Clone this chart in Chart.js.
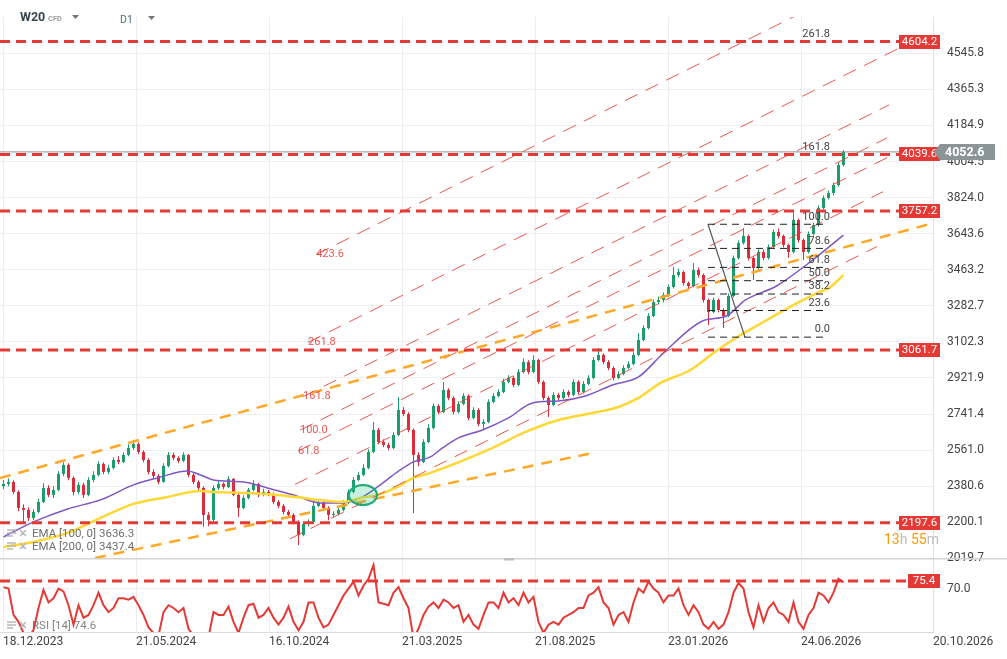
<!DOCTYPE html>
<html>
<head>
<meta charset="utf-8">
<title>W20 D1</title>
<script src="https://cdn.jsdelivr.net/npm/chart.js@4.4.1/dist/chart.umd.min.js"></script>
<style>
  html, body { margin: 0; padding: 0; background: #fff; }
  body { width: 1007px; height: 659px; position: relative; overflow: hidden; }
  canvas { position: absolute; left: 0; }
  #price { top: 0; }
  #rsi { top: 558px; }
</style>
</head>
<body>
<canvas id="price" width="1007" height="570"></canvas>
<canvas id="rsi" width="1007" height="101"></canvas>
<script>
// candles, one every few sessions
var opens = [
  2380,2392,2402,2352,2272,2262,2222,2252,2302,2372,
  2337,2362,2442,2487,2422,2352,2387,2337,2412,2437,
  2492,2452,2472,2512,2502,2537,2572,2592,2552,2512,
  2452,2432,2402,2482,2537,2522,2507,2537,2437,2402,
  2372,2237,2212,2372,2392,2377,2417,2337,2272,2322,
  2362,2392,2337,2352,2342,2302,2282,2252,2237,2202,
  2137,2192,2202,2282,2297,2272,2237,2242,2262,2297,
  2352,2412,2437,2472,2552,2662,2602,2587,2572,2637,
  2762,2742,2662,2537,2502,2602,2672,2782,2752,2862,
  2822,2752,2792,2832,2722,2762,2692,2702,2802,2832,
  2852,2902,2922,2887,2952,3002,2952,3012,2902,2822,
  2787,2837,2822,2852,2837,2902,2852,2892,2922,3012,
  3037,3002,2972,2922,2942,2972,2992,3037,3112,3172,
  3232,3302,3312,3337,3377,3437,3452,3397,3382,3462,
  3437,3312,3252,3312,3262,3232,3332,3522,3597,3632,
  3522,3472,3552,3522,3577,3652,3632,3587,3552,3712,
  3612,3552,3642,3687,3772,3822,3847,3887,3987];
var highs = [
  2412,2420,2410,2360,2290,2275,2265,2318,2395,2385,
  2380,2455,2500,2495,2430,2400,2398,2425,2455,2505,
  2500,2488,2525,2530,2550,2590,2612,2600,2560,2520,
  2465,2440,2495,2552,2548,2530,2550,2542,2445,2410,
  2380,2250,2385,2410,2400,2430,2422,2345,2335,2372,
  2412,2398,2368,2362,2350,2312,2290,2262,2245,2210,
  2205,2215,2312,2310,2305,2280,2255,2272,2310,2365,
  2425,2450,2490,2565,2702,2672,2615,2598,2650,2827,
  2775,2750,2670,2550,2615,2690,2795,2790,2902,2870,
  2830,2805,2845,2840,2775,2770,2715,2815,2845,2865,
  2918,2935,2930,2965,3020,3010,3035,3018,2910,2830,
  2850,2848,2865,2860,2915,2910,2905,2935,3025,3072,
  3045,3010,2980,2955,2985,3005,3050,3147,3185,3245,
  3315,3330,3350,3390,3477,3470,3460,3405,3497,3475,
  3445,3320,3325,3320,3270,3345,3535,3610,3672,3640,
  3530,3565,3565,3590,3665,3670,3640,3595,3752,3720,
  3620,3655,3700,3785,3835,3860,3900,4000,4062];
var lows = [
  2365,2380,2340,2255,2202,2205,2210,2245,2295,2325,
  2322,2355,2430,2410,2335,2340,2322,2330,2400,2430,
  2440,2442,2465,2490,2495,2530,2562,2540,2500,2440,
  2420,2390,2398,2475,2510,2495,2500,2425,2390,2360,
  2178,2180,2205,2362,2365,2370,2330,2227,2265,2315,
  2355,2325,2330,2330,2290,2270,2240,2225,2190,2087,
  2130,2180,2198,2275,2262,2210,2225,2235,2255,2290,
  2345,2405,2430,2465,2545,2590,2575,2560,2565,2630,
  2730,2650,2247,2480,2495,2595,2665,2740,2745,2810,
  2740,2745,2785,2710,2715,2680,2662,2695,2795,2825,
  2845,2895,2875,2880,2945,2940,2945,2890,2810,2727,
  2780,2810,2815,2825,2830,2840,2845,2885,2915,3005,
  2990,2960,2910,2915,2935,2965,2985,3030,3105,3165,
  3225,3290,3300,3330,3370,3425,3385,3370,3375,3425,
  3300,3187,3245,3250,3172,3225,3325,3515,3590,3510,
  3412,3465,3510,3515,3570,3620,3575,3522,3545,3600,
  3512,3545,3635,3680,3765,3815,3835,3880,3980];
var closes = [
  2392,2402,2352,2272,2262,2222,2252,2302,2372,2337,
  2362,2442,2487,2422,2352,2387,2337,2412,2437,2492,
  2452,2472,2512,2502,2537,2572,2592,2552,2512,2452,
  2432,2402,2482,2537,2522,2507,2537,2437,2402,2372,
  2237,2212,2372,2392,2377,2417,2337,2272,2322,2362,
  2392,2337,2352,2342,2302,2282,2252,2237,2202,2137,
  2192,2202,2282,2297,2272,2237,2242,2262,2297,2352,
  2412,2437,2472,2552,2662,2602,2587,2572,2637,2762,
  2742,2662,2537,2502,2602,2672,2782,2752,2862,2822,
  2752,2792,2832,2722,2762,2692,2702,2802,2832,2852,
  2902,2922,2887,2952,3002,2952,3012,2902,2822,2787,
  2837,2822,2852,2837,2902,2852,2892,2922,3012,3037,
  3002,2972,2922,2942,2972,2992,3037,3112,3172,3232,
  3302,3312,3337,3377,3437,3452,3397,3382,3462,3437,
  3312,3252,3312,3262,3232,3332,3522,3597,3632,3522,
  3472,3552,3522,3577,3652,3632,3587,3552,3712,3612,
  3552,3642,3687,3772,3822,3847,3887,3987,4052.6];

var rsiValues = [
  71,70,51,46,38,35,40,56,69,60,
  63,70,68,58,44,58,49,51,58,67,
  58,53,56,63,63,62,64,58,51,42,
  38,36,53,58,56,53,56,41,36,34,
  30,35,53,51,51,57,46,38,49,58,
  59,49,51,56,49,44,49,57,46,40,
  46,60,60,49,42,44,51,58,65,70,
  75,65,72,77,87,60,59,58,67,71,
  63,56,34,41,51,57,60,56,62,60,
  56,58,46,51,44,41,51,60,60,56,
  67,60,63,58,67,60,64,46,38,44,
  46,44,49,51,53,56,56,65,67,71,
  60,56,44,51,53,46,60,70,67,75,
  70,67,60,65,65,70,58,51,58,53,
  44,41,46,41,44,53,67,74,70,53,
  42,58,46,56,60,53,51,46,60,46,
  41,51,56,67,65,60,67,77,74.6];

// moving averages as drawn (x in candle units)
var ema100X = [0,6,12.8,19.4,26,30.8,36.8,39.4,42,48,52.8,58,63.4,68,71.4,74.8,78.8,82,85.4,87.8,91,95.8,101,105.8,111,116.4,121.8,127,132,139.8,144.6,148.4,154.6,160.8,168];
var ema100Y = [2127,2202,2267,2312,2387,2422,2457,2437,2412,2402,2372,2337,2297,2297,2322,2377,2452,2502,2527,2572,2622,2662,2722,2797,2807,2832,2887,2927,3047,3207,3232,3312,3382,3492,3636.3];
var ema200X = [0,6,12.8,19.4,26,32.8,39.4,42,48,54.8,61.4,68,71.4,74.8,78.8,82,85.4,97.8,104.4,111,117.8,123,127,131.4,137.4,142,146.8,152,158.8,162.8,165.4,168];
var ema200Y = [2077,2102,2147,2222,2292,2327,2357,2352,2347,2337,2317,2302,2322,2337,2377,2422,2447,2572,2652,2712,2747,2777,2822,2897,2962,3047,3127,3202,3297,3347,3377,3437.4];

var dateTicks = [-0.1, 26.5, 53.1, 79.7, 106.3, 132.9, 159.5, 185.9];
var dateLabels = ['18.12.2023','21.05.2024','16.10.2024','21.03.2025','21.08.2025','23.01.2026','24.06.2026','20.10.2026'];
var priceTickLabels = ['2019.7','2200.1','2380.6','2561.0','2741.4','2921.9','3102.3','3282.7','3463.2','3643.6','3824.0','4004.5','4184.9','4365.3','4545.8'];

var levels = [4604.2, 4039.6, 3757.2, 3061.7, 2197.6];
var lastPrice = 4052.6;
var rsiLevel = 75.4;
var rsiLast = 74.6;

// fibonacci channel (red), anchored in data units
var channelLevels = [-100, 0, 61.8, 100, 161.8, 261.8, 423.6];
var channelEnds = [174.7, 175.9, 177.1, 176.7, 177.1, 179.1, 179];
// fibonacci retracement (black)
var fibLevels = [0, 23.6, 38.2, 50, 61.8, 78.6, 100, 161.8, 261.8];
var fibLow = 3126.1, fibHigh = 3690.7;
// orange trend lines [x0, p0, x1, p1]
var orangeLines = [[-0.7, 2421.7, 185.9, 3696.6], [18.3, 2021.6, 118.7, 2551.7]];
var crossMark = [71.9, 2336.6];

var UP = '#1c9d6c', DOWN = '#dc2c3c';
var RED = '#e53935';

function chanPrice(L, x) { return 2389.2 + 12.45 * (x - 58.3) + 2.591 * L; }
function chanStart(L) { return 58.3 + 0.01 * L; }
function fibPrice(L) { return fibLow + (fibHigh - fibLow) * L / 100; }

Chart.defaults.font.family = 'Roboto, "Noto Sans", sans-serif';
Chart.defaults.color = '#444';

function candleColor(ctx) {
  var i = ctx.dataIndex;
  return closes[i] >= opens[i] ? UP : DOWN;
}
function lineSet(pts, color, width, dash, order) {
  return { type: 'line', data: pts, borderColor: color, borderWidth: width, borderDash: dash || [],
           pointRadius: 0, fill: false, tension: 0, order: order };
}
function xy(xs, ys) { return xs.map(function (x, i) { return { x: x, y: ys[i] }; }); }

var ds = [];
ds.push({ type: 'bar', data: closes.map(function (c, i) { return { x: i, y: [lows[i], highs[i]] }; }),
          backgroundColor: candleColor, maxBarThickness: 1, grouped: false, order: 20 });
ds.push({ type: 'bar', data: closes.map(function (c, i) { return { x: i, y: [opens[i], c] }; }),
          backgroundColor: candleColor, maxBarThickness: 3, grouped: false, minBarLength: 1, order: 19 });
var e100 = lineSet(xy(ema100X, ema100Y), '#7e57c2', 1.5, null, 18); e100.cubicInterpolationMode = 'monotone';
var e200 = lineSet(xy(ema200X, ema200Y), '#fdd835', 2.5, null, 17); e200.cubicInterpolationMode = 'monotone';
ds.push(e100, e200);
channelLevels.forEach(function (L, k) {
  var x0 = chanStart(L), x1 = channelEnds[k];
  ds.push(lineSet([{ x: x0, y: chanPrice(L, x0) }, { x: x1, y: chanPrice(L, x1) }], 'rgba(229,57,53,0.85)', 1, [14, 9], 10));
});
orangeLines.forEach(function (o) {
  ds.push(lineSet([{ x: o[0], y: o[1] }, { x: o[2], y: o[3] }], '#ffa726', 2.5, [11, 8], 9));
});
fibLevels.forEach(function (L) {
  if (L > 100) return;
  ds.push(lineSet([{ x: 140.9, y: fibPrice(L) }, { x: 164.9, y: fibPrice(L) }], '#222', 1, [7, 5], 8));
});
ds.push(lineSet([{ x: 140.9, y: fibHigh }, { x: 148.3, y: fibLow }], '#555', 1.2, null, 8));
ds.push(lineSet([{ x: -0.7, y: lastPrice }, { x: 185.9, y: lastPrice }], '#8e8e8e', 1, null, 7));
levels.forEach(function (p) {
  ds.push(lineSet([{ x: -0.7, y: p }, { x: 180.3, y: p }], RED, 3, [10, 6], 5));
});

function tag(ctx, y, text, x0, x1, bg) {
  var yy = Math.round(y);
  ctx.fillStyle = bg;
  ctx.fillRect(x0, yy - 7, x1 - x0, 14);
  ctx.fillStyle = '#fff';
  ctx.font = '11.5px Roboto';
  ctx.textAlign = 'center';
  ctx.textBaseline = 'middle';
  ctx.fillText(text, (x0 + x1) / 2, yy + 0.5);
}
function legendIcons(ctx, y) {
  ctx.strokeStyle = '#b8b8b8';
  ctx.lineWidth = 1.5;
  ctx.beginPath();
  ctx.moveTo(7, y - 4); ctx.lineTo(16, y - 4);
  ctx.moveTo(7, y - 1); ctx.lineTo(16, y - 1);
  ctx.moveTo(7, y + 2); ctx.lineTo(13, y + 2);
  ctx.moveTo(20, y - 4); ctx.lineTo(26, y + 2);
  ctx.moveTo(26, y - 4); ctx.lineTo(20, y + 2);
  ctx.stroke();
}
function tri(ctx, x, y) {
  ctx.fillStyle = '#757575';
  ctx.beginPath(); ctx.moveTo(x, y); ctx.lineTo(x + 7, y); ctx.lineTo(x + 3.5, y + 4); ctx.closePath(); ctx.fill();
}

var priceOverlay = {
  id: 'priceOverlay',
  afterDatasetsDraw: function (chart) {
    var ctx = chart.ctx, xs = chart.scales.x, ys = chart.scales.y;
    ctx.save();
    // crossing mark
    ctx.beginPath();
    ctx.ellipse(xs.getPixelForValue(crossMark[0]), ys.getPixelForValue(crossMark[1]), 14, 10, 0, 0, Math.PI * 2);
    ctx.fillStyle = 'rgba(40,200,140,0.25)';
    ctx.fill();
    ctx.strokeStyle = '#1fa97a';
    ctx.lineWidth = 2;
    ctx.stroke();
    // channel level labels
    ctx.font = '11px Roboto';
    ctx.fillStyle = 'rgba(229,57,53,0.85)';
    ctx.textAlign = 'left';
    ctx.textBaseline = 'middle';
    channelLevels.forEach(function (L) {
      if (L <= 0) return;
      var x0 = chanStart(L);
      ctx.fillText(L.toFixed(1), xs.getPixelForValue(x0), ys.getPixelForValue(chanPrice(L, x0)));
    });
    // retracement labels
    ctx.fillStyle = '#424242';
    ctx.textAlign = 'right';
    ctx.textBaseline = 'bottom';
    fibLevels.forEach(function (L) {
      ctx.fillText(L.toFixed(1), xs.getPixelForValue(165.3), ys.getPixelForValue(fibPrice(L)) - 2);
    });
    ctx.restore();
  },
  afterDraw: function (chart) {
    var ctx = chart.ctx, ys = chart.scales.y, ca = chart.chartArea;
    ctx.save();
    levels.forEach(function (p) {
      tag(ctx, ys.getPixelForValue(p), p.toFixed(1), ca.right - 34, ca.right + 7, RED);
    });
    // last price
    var y = Math.round(ys.getPixelForValue(lastPrice));
    ctx.fillStyle = '#8b9598';
    ctx.beginPath();
    ctx.moveTo(ca.right + 1, y);
    ctx.lineTo(ca.right + 7, y - 8);
    ctx.lineTo(ca.right + 62, y - 8);
    ctx.lineTo(ca.right + 62, y + 8);
    ctx.lineTo(ca.right + 7, y + 8);
    ctx.closePath();
    ctx.fill();
    ctx.fillStyle = '#fff';
    ctx.font = 'bold 12.5px Roboto';
    ctx.textAlign = 'left';
    ctx.textBaseline = 'middle';
    ctx.fillText(lastPrice.toFixed(1), ca.right + 12, y + 0.5);
    // countdown
    ctx.font = '14px Roboto';
    var x = 884, parts = [['13', '#ff9800'], ['h ', '#bdbdbd'], ['55', '#ff9800'], ['m', '#bdbdbd']];
    parts.forEach(function (p) {
      ctx.fillStyle = p[1];
      ctx.fillText(p[0], x, 540);
      x += ctx.measureText(p[0]).width;
    });
    // header
    ctx.fillStyle = '#37474f';
    ctx.font = 'bold 12.5px Roboto';
    ctx.fillText('W20', 20, 18);
    ctx.fillStyle = '#9e9e9e';
    ctx.font = 'bold 7.5px Roboto';
    ctx.fillText('CFD', 48, 19);
    tri(ctx, 72, 15);
    ctx.fillStyle = '#546e7a';
    ctx.font = '10.5px Roboto';
    ctx.fillText('D1', 120, 20);
    tri(ctx, 148, 16);
    // indicator legend
    ctx.font = '11.5px Roboto';
    ctx.fillStyle = '#6f6f6f';
    ctx.fillText('EMA [100, 0] ' + ema100Y[ema100Y.length - 1].toFixed(1), 32, 534);
    ctx.fillText('EMA [200, 0] ' + ema200Y[ema200Y.length - 1].toFixed(1), 32, 547);
    legendIcons(ctx, 534);
    legendIcons(ctx, 547);
    ctx.restore();
  }
};

var rsiOverlay = {
  id: 'rsiOverlay',
  afterDraw: function (chart) {
    var ctx = chart.ctx, ys = chart.scales.y, ca = chart.chartArea;
    ctx.save();
    ctx.strokeStyle = '#d2d2d2';
    ctx.lineWidth = 1.5;
    ctx.beginPath(); ctx.moveTo(0, 0.75); ctx.lineTo(1007, 0.75); ctx.stroke();
    ctx.fillStyle = '#bdbdbd';
    ctx.fillRect(504, 0, 10, 2.5);
    tag(ctx, ys.getPixelForValue(rsiLevel), rsiLevel.toFixed(1), ca.right - 25, ca.right + 7, RED);
    ctx.font = '11.5px Roboto';
    ctx.fillStyle = 'rgba(100,100,100,0.8)';
    ctx.textAlign = 'left';
    ctx.textBaseline = 'middle';
    ctx.fillText('RSI [14] ' + rsiLast.toFixed(1), 32, 68);
    legendIcons(ctx, 68);
    ctx.restore();
  }
};

// fixed axis box sizes so both panes share the same plot width
function fixY(s) { s.width = 74; s.paddingTop = 0; s.paddingBottom = 0; }

var xBase = {
  type: 'linear', min: -0.7, max: 185.9, offset: false, bounds: 'data',
  afterBuildTicks: function (s) { s.ticks = dateTicks.map(function (v) { return { value: v }; }); },
  grid: { color: '#eeeeee', drawTicks: false, offset: false }
};

new Chart(document.getElementById('price'), {
  type: 'bar',
  data: { datasets: ds },
  plugins: [priceOverlay],
  options: {
    responsive: false, animation: false, events: [],
    layout: { padding: { top: 17, bottom: 11, left: 0, right: 0 } },
    plugins: { legend: { display: false }, tooltip: { enabled: false } },
    scales: {
      x: Object.assign({}, xBase, {
        ticks: { display: false },
        border: { display: false },
        afterFit: function (s) { s.height = 0; s.paddingLeft = 0; s.paddingRight = 0; }
      }),
      y: {
        type: 'linear', position: 'right', min: 2016.5, max: 4727.3, bounds: 'data',
        afterBuildTicks: function (s) { s.ticks = priceTickLabels.map(function (t) { return { value: parseFloat(t) }; }); },
        afterFit: fixY,
        grid: { color: '#f0f0f0', drawTicks: false },
        border: { color: '#e3e3e3' },
        ticks: { padding: 14, color: '#444', font: { size: 12 },
                 callback: function (v, i) { return priceTickLabels[i]; } }
      }
    }
  }
});

new Chart(document.getElementById('rsi'), {
  type: 'line',
  data: { datasets: [
    lineSet(rsiValues.map(function (r, i) { return { x: i, y: r }; }), RED, 2, null, 2),
    lineSet([{ x: -0.7, y: rsiLevel }, { x: 180.9, y: rsiLevel }], RED, 3, [10, 6], 1)
  ] },
  plugins: [rsiOverlay],
  options: {
    responsive: false, animation: false, events: [],
    layout: { padding: 0 },
    plugins: { legend: { display: false }, tooltip: { enabled: false } },
    scales: {
      x: Object.assign({}, xBase, {
        border: { color: '#dcdcdc' },
        ticks: { align: 'start', autoSkip: false, maxRotation: 0, minRotation: 0, padding: 3,
                 color: '#444', font: { size: 12 },
                 callback: function (v, i) { return dateLabels[i]; } },
        afterFit: function (s) { s.height = 27; s.paddingLeft = 0; s.paddingRight = 0; }
      }),
      y: {
        type: 'linear', position: 'right', min: 38.7, max: 92, bounds: 'data',
        afterBuildTicks: function (s) { s.ticks = [{ value: 70 }]; },
        afterFit: fixY,
        grid: { color: '#f0f0f0', drawTicks: false },
        border: { color: '#e3e3e3' },
        ticks: { padding: 14, color: '#444', font: { size: 12 },
                 callback: function () { return '70.0'; } }
      }
    }
  }
});
</script>
</body>
</html>
